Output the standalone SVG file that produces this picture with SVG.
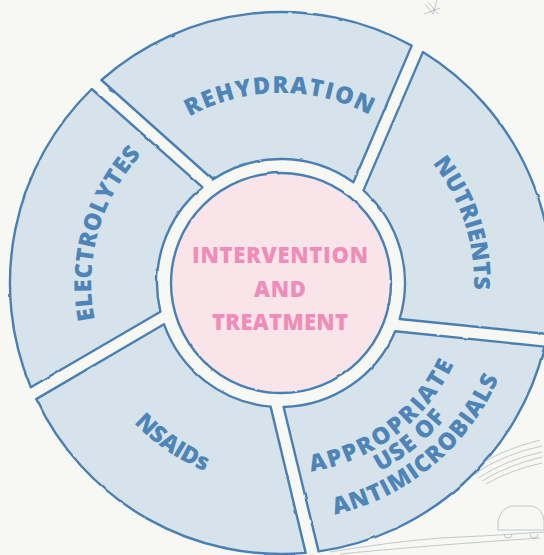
<svg xmlns="http://www.w3.org/2000/svg" width="544" height="555" viewBox="0 0 544 555">
<defs>
<style>
.seg{fill:#d7e3eb;stroke:#4a80b3;stroke-width:2.4;stroke-linejoin:round}
.lbl{font-family:"Open Sans","Liberation Sans",sans-serif;font-weight:800;font-size:23.5px;fill:#4e85b8}
.ctr{font-family:"Open Sans","Liberation Sans",sans-serif;font-weight:800;font-size:22px;fill:#ef8cb7;text-anchor:middle}
.sk{fill:none;stroke:#8e98a4;stroke-width:1;opacity:0.5}
</style>
<filter id="rough" x="-5%" y="-5%" width="110%" height="110%">
<feTurbulence type="fractalNoise" baseFrequency="0.06" numOctaves="2" seed="3"/>
<feDisplacementMap in="SourceGraphic" scale="2" xChannelSelector="R" yChannelSelector="G"/>
</filter>
<path id="pReh" d="M93.6,251.6 A190,190 0 0 1 467.8,248.4"/>
<path id="pNut" d="M253.5,92 A193,193 0 0 1 372.2,453.1"/>
<path id="pEle" d="M198.5,454.1 A190,190 0 0 1 300,94"/>
<path id="pNsa" d="M95.8,199.8 A203,203 0 0 0 426.5,424.5"/>
<path id="pApp" d="M150.5,422.5 A191,191 0 0 0 451.3,196.6"/>
<path id="pUse" d="M141.8,444.2 A213,213 0 0 0 466.9,179.1"/>
<path id="pAnt" d="M127.1,464.5 A238,238 0 0 0 487.7,165.1"/>
</defs>
<rect width="544" height="555" fill="#f7f8f4"/>
<g id="background-sketch">
<path class="sk" d="M425,4 l8,10 M437,0 l-4,14 M424,14 l16,-6 M428,2 l10,12"/>
<path class="sk" d="M470,470 q30,-20 70,-30 M474,474 q30,-20 68,-28 M478,478 q28,-18 64,-26 M482,481 q26,-16 60,-24 M486,484 q24,-14 56,-21"/>
<path class="sk" d="M498,522 q2,-14 14,-16 l20,0 q10,2 12,14 l0,10 l-46,0 z M504,534 a4,4 0 1 0 8,0 M530,534 a4,4 0 1 0 8,0"/>
<path class="sk" d="M330,552 q60,-10 110,-14 q50,-2 104,-6 M340,554 q80,-8 200,-16"/>
</g>
<g id="connectors"></g>
<g id="rehydration">
<path class="seg" filter="url(#rough)" d="M101.4,80 A271,271 0 0 1 411.7,45.6 L353.4,182.3 A124,124 0 0 0 212.7,179.5 Z"/>
<text class="lbl" textLength="188" lengthAdjust="spacing"><textPath href="#pReh" startOffset="50%" text-anchor="middle">REHYDRATION</textPath></text>
</g>
<g id="nutrients">
<path class="seg" filter="url(#rough)" d="M422.9,52.1 A271,271 0 0 1 547.2,333.9 L399.6,319 A124,124 0 0 0 363.5,190.4 Z"/>
<text class="lbl" textLength="136" lengthAdjust="spacing"><textPath href="#pNut" startOffset="50%" text-anchor="middle">NUTRIENTS</textPath></text>
</g>
<g id="antimicrobials">
<path class="seg" filter="url(#rough)" d="M544.4,346.6 A271,271 0 0 1 318.6,551.4 L283.6,407 A124,124 0 0 0 395.2,331.2 Z"/>
<text class="lbl" textLength="186" lengthAdjust="spacing"><textPath href="#pApp" startOffset="50%" text-anchor="middle">APPROPRIATE</textPath></text>
<text class="lbl" textLength="86" lengthAdjust="spacing"><textPath href="#pUse" startOffset="50%" text-anchor="middle">USE OF</textPath></text>
<text class="lbl" textLength="221" lengthAdjust="spacing"><textPath href="#pAnt" startOffset="50%" text-anchor="middle">ANTIMICROBIALS</textPath></text>
</g>
<g id="nsaids">
<path class="seg" filter="url(#rough)" d="M305.7,552.9 A271,271 0 0 1 36.2,399.1 L164,324.2 A124,124 0 0 0 270.6,406.6 Z"/>
<text class="lbl" textLength="87" lengthAdjust="spacing"><textPath href="#pNsa" startOffset="50%" text-anchor="middle">NSAIDs</textPath></text>
</g>
<g id="electrolytes">
<path class="seg" filter="url(#rough)" d="M30.8,387.3 A271,271 0 0 1 91.8,89 L202.3,187.2 A124,124 0 0 0 160.4,311.7 Z"/>
<text class="lbl" textLength="178" lengthAdjust="spacing"><textPath href="#pEle" startOffset="50%" text-anchor="middle">ELECTROLYTES</textPath></text>
</g>
<g id="intervention">
<circle cx="281" cy="283" r="110" fill="#f9e4ea" stroke="#4a80b3" stroke-width="2.4" filter="url(#rough)"/>
<text class="ctr" x="280" y="262.5" textLength="176" lengthAdjust="spacing">INTERVENTION</text>
<text class="ctr" x="280" y="296.5" textLength="52" lengthAdjust="spacing">AND</text>
<text class="ctr" x="280" y="329.5" textLength="136" lengthAdjust="spacing">TREATMENT</text>
</g>
</svg>
